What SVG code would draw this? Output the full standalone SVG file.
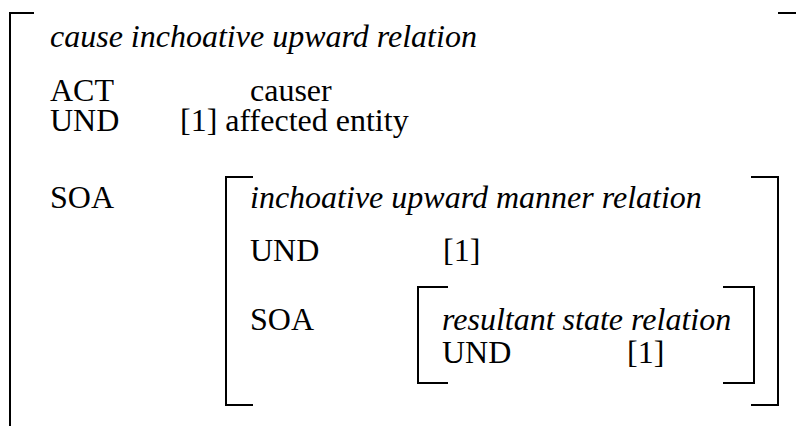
<svg xmlns="http://www.w3.org/2000/svg" width="796" height="426" viewBox="0 0 796 426">
<style>
text{font-family:"Liberation Serif",Tinos,"Times New Roman",Times,"DejaVu Serif","Noto Serif",serif;font-size:32px;fill:#000}
.it{font-style:italic}
.br{fill:none;stroke:#000;stroke-width:2}
</style>
<rect width="796" height="426" fill="#fff"/>
<g id="outer" font-family="Liberation Serif, Times New Roman, serif">
<path class="br" d="M34,13 H10 V426"/>
<path class="br" d="M778,13 H796"/>
<text class="it" x="50" y="47">cause inchoative upward relation</text>
<text x="50" y="101">ACT</text>
<text x="250" y="101">causer</text>
<text x="50" y="131">UND</text>
<text x="180" y="131">[1] affected entity</text>
<text x="50" y="208">SOA</text>
</g>
<g id="middle" font-family="Liberation Serif, Times New Roman, serif">
<path class="br" d="M253,177 H226 V405 H253"/>
<path class="br" d="M751,177 H778 V405 H751"/>
<text class="it" x="250" y="208">inchoative upward manner relation</text>
<text x="250" y="261">UND</text>
<text x="443" y="261">[1]</text>
<text x="250" y="330">SOA</text>
</g>
<g id="inner" font-family="Liberation Serif, Times New Roman, serif">
<path class="br" d="M448,287 H418 V383 H448"/>
<path class="br" d="M723,287 H754 V383 H723"/>
<text class="it" x="442" y="330">resultant state relation</text>
<text x="442" y="363">UND</text>
<text x="627" y="363">[1]</text>
</g>
<g id="connectors"></g>
</svg>
